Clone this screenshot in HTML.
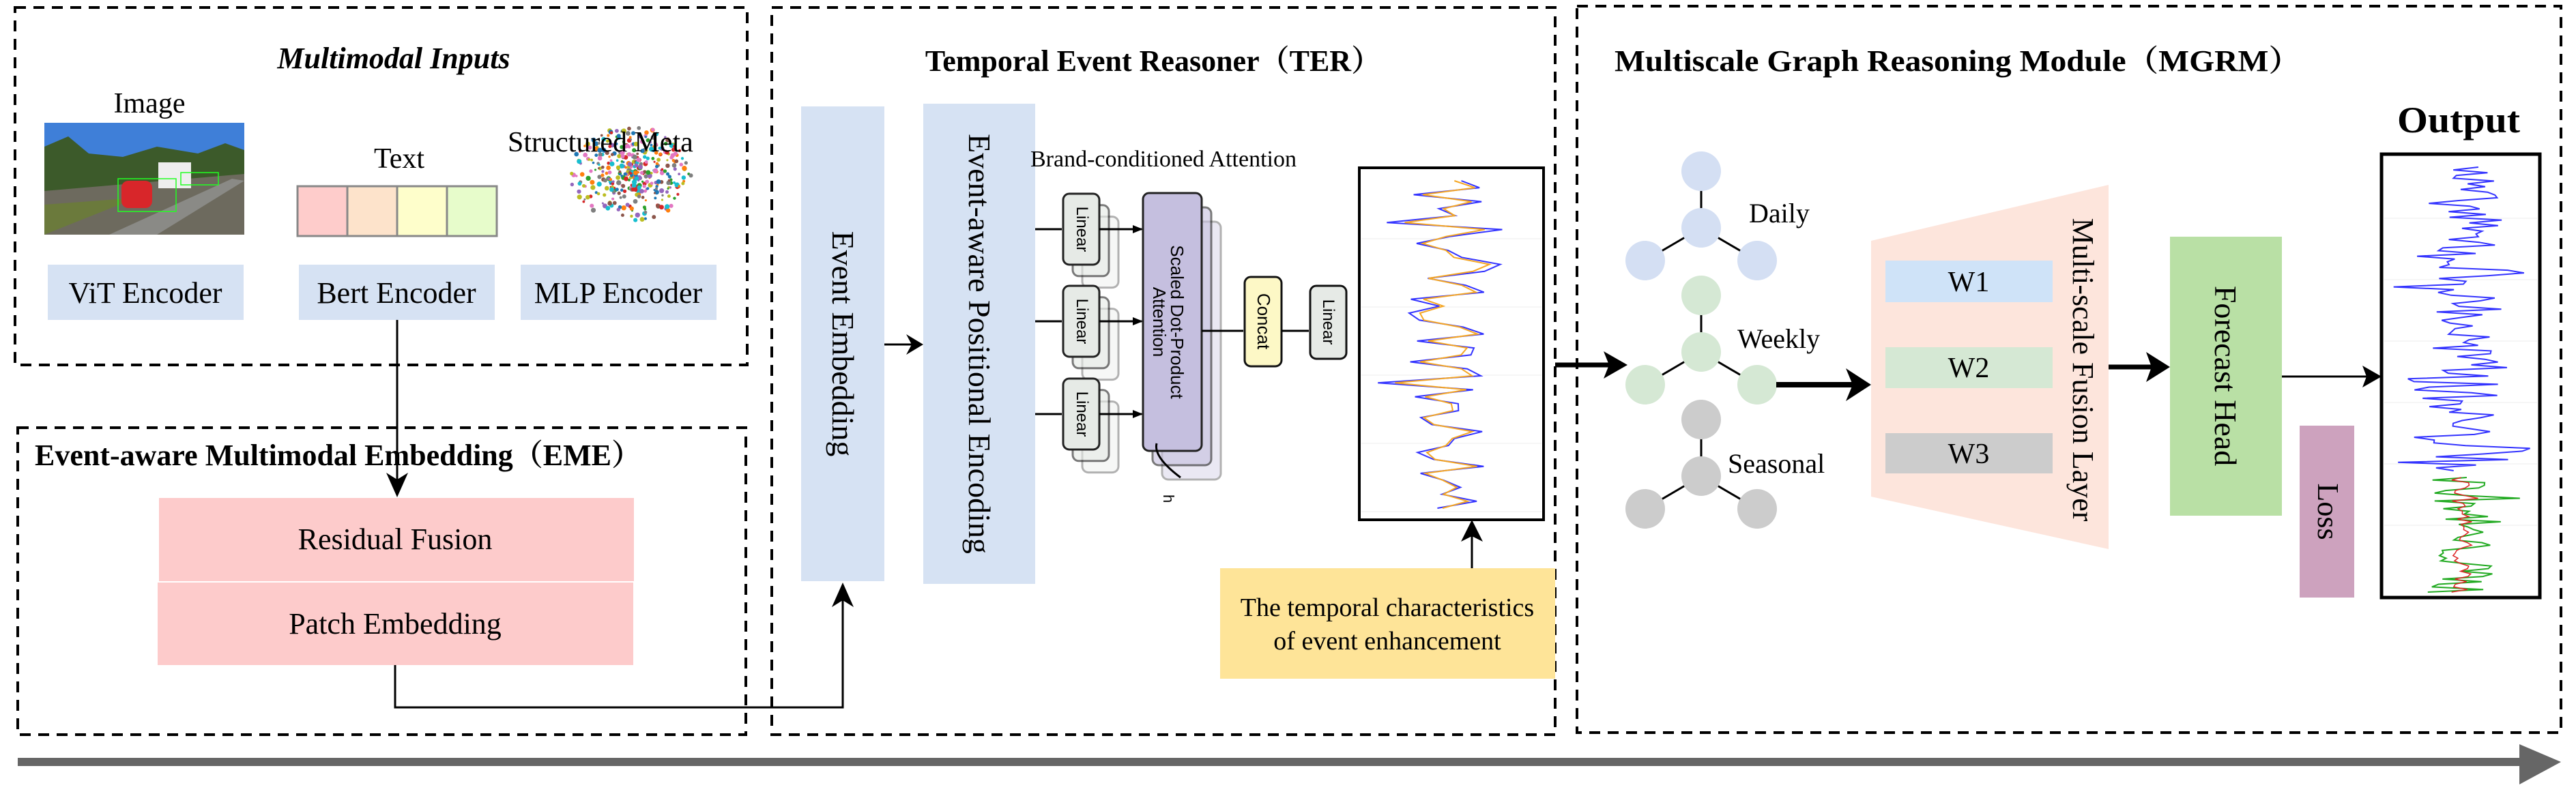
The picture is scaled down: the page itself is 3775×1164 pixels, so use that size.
<!DOCTYPE html>
<html><head><meta charset="utf-8"><style>
html,body{margin:0;padding:0;background:#fff;}
svg{display:block;}
text{font-family:"Liberation Serif","Noto Serif CJK SC",serif;fill:#000;}
.sans{font-family:"Liberation Sans",sans-serif;}
</style></head><body>
<svg id="s" width="3775" height="1164" viewBox="0 0 3775 1164" xmlns="http://www.w3.org/2000/svg">
<g fill="none" stroke="#000" stroke-width="4" stroke-dasharray="16,11">
<rect x="22" y="11" width="1073" height="524"/>
<rect x="26" y="627" width="1067" height="450"/>
<rect x="1131" y="11" width="1148" height="1066"/>
<rect x="2311" y="9" width="1442" height="1065"/>
</g>

<text x="577" y="100" font-size="44" font-weight="bold" font-style="italic" text-anchor="middle">Multimodal Inputs</text>
<text x="219" y="165" font-size="42" text-anchor="middle">Image</text>
<g>
<rect x="65" y="180" width="293" height="164" fill="#5b8fd9"/>
<rect x="65" y="180" width="293" height="50" fill="#3f7fd8"/>
<path d="M65,215 L100,200 L130,225 L180,230 L230,215 L290,225 L330,210 L358,220 L358,270 L65,290 Z" fill="#3c5a2a"/>
<path d="M65,280 L358,255 L358,344 L65,344 Z" fill="#6d6a5e"/>
<path d="M65,300 L200,290 L65,344 Z" fill="#6b7a3c"/>
<path d="M160,344 L340,262 L358,265 L230,344 Z" fill="#8a8a86"/>
<rect x="178" y="265" width="45" height="40" rx="10" fill="#d8262a"/>
<rect x="232" y="238" width="48" height="38" fill="#eeeeee"/>
<rect x="173" y="262" width="85" height="48" fill="none" stroke="#2f2" stroke-width="1.5"/>
<rect x="265" y="253" width="55" height="18" fill="none" stroke="#2f2" stroke-width="1.5"/>
</g>
<text x="585" y="246" font-size="42" text-anchor="middle">Text</text>
<g stroke="#888" stroke-width="3">
<rect x="436" y="273" width="73" height="73" fill="#fecccb"/>
<rect x="509" y="273" width="73" height="73" fill="#fde3cb"/>
<rect x="582" y="273" width="73" height="73" fill="#fefecb"/>
<rect x="655" y="273" width="73" height="73" fill="#e7fccb"/>
</g>
<g id="scatter"></g>
<text x="744" y="222" font-size="42">Structured Meta</text>
<g fill="#d6e2f3">
<rect x="70" y="388" width="287" height="81"/>
<rect x="438" y="388" width="287" height="81"/>
<rect x="763" y="388" width="287" height="81"/>
</g>
<g font-size="44" text-anchor="middle">
<text x="213" y="444">ViT Encoder</text>
<text x="581" y="444">Bert Encoder</text>
<text x="906" y="444">MLP Encoder</text>
</g>
<line x1="582" y1="469" x2="582" y2="705" stroke="#000" stroke-width="3"/>
<path d="M566,693 L582,729 L598,693 L582,703 Z" fill="#000"/>

<text x="51" y="682" font-size="44" font-weight="bold">Event-aware Multimodal Embedding（EME）</text>
<rect x="233" y="730" width="696" height="122" fill="#fdcbcb"/>
<rect x="231" y="854" width="697" height="121" fill="#fdcbcb"/>
<text x="579" y="805" font-size="44" text-anchor="middle">Residual Fusion</text>
<text x="579" y="929" font-size="44" text-anchor="middle">Patch Embedding</text>
<polyline points="579,975 579,1037 1235,1037 1235,880" fill="none" stroke="#000" stroke-width="3"/>
<path d="M1219,890 L1235,854 L1251,890 L1235,880 Z" fill="#000"/>

<text x="1690" y="104" font-size="44" font-weight="bold" text-anchor="middle">Temporal  Event Reasoner（TER）</text>
<rect x="1174" y="156" width="122" height="696" fill="#d6e2f3"/>
<rect x="1353" y="152" width="164" height="704" fill="#d6e2f3"/>
<text transform="translate(1220,504) rotate(90)" font-size="46" text-anchor="middle">Event Embedding</text>
<text transform="translate(1420,504) rotate(90)" font-size="46" text-anchor="middle">Event-aware Positional Encoding</text>
<line x1="1296" y1="505" x2="1340" y2="505" stroke="#000" stroke-width="3"/>
<path d="M1328,490 L1353,505 L1328,520 L1336,505 Z" fill="#000"/>
<text x="1510" y="244" font-size="34">Brand-conditioned Attention</text>
<g id="att"></g>
<rect x="1992" y="246" width="270" height="516" fill="#fff" stroke="#000" stroke-width="4"/>
<g id="c1"></g>
<rect x="1788" y="833" width="491" height="162" fill="#fee498"/>
<text x="2033" y="903" font-size="38" text-anchor="middle">The temporal characteristics</text>
<text x="2033" y="952" font-size="38" text-anchor="middle">of event enhancement</text>
<line x1="2157" y1="833" x2="2157" y2="782" stroke="#000" stroke-width="3"/>
<path d="M2141,794 L2157,762 L2173,794 L2157,786 Z" fill="#000"/>

<line x1="2279" y1="535" x2="2360" y2="535" stroke="#000" stroke-width="7"/>
<path d="M2350,515 L2385,535 L2350,555 L2358,535 Z" fill="#000"/>

<text x="2366" y="104" font-size="44" font-weight="bold" textLength="1006" lengthAdjust="spacingAndGlyphs">Multiscale Graph Reasoning Module（MGRM）</text>
<g id="graphs"></g>
<text x="2563" y="326" font-size="40">Daily</text>
<text x="2546" y="510" font-size="40">Weekly</text>
<text x="2532" y="693" font-size="40">Seasonal</text>
<line x1="2603" y1="564" x2="2715" y2="564" stroke="#000" stroke-width="8"/>
<path d="M2705,540 L2742,564 L2705,588 L2715,564 Z" fill="#000"/>
<polygon points="2742,353 3090,271 3090,805 2742,728" fill="#fde5dc"/>
<rect x="2763" y="382" width="245" height="61" fill="#cfe3f8"/>
<rect x="2763" y="509" width="245" height="60" fill="#d5e8d4"/>
<rect x="2763" y="635" width="245" height="59" fill="#cccccc"/>
<g font-size="42" text-anchor="middle">
<text x="2885" y="427">W1</text>
<text x="2885" y="553">W2</text>
<text x="2885" y="679">W3</text>
</g>
<text transform="translate(3038,542) rotate(90)" font-size="44" text-anchor="middle">Multi-scale Fusion Layer</text>
<line x1="3090" y1="538" x2="3155" y2="538" stroke="#000" stroke-width="7"/>
<path d="M3145,516 L3180,538 L3145,560 L3153,538 Z" fill="#000"/>
<rect x="3180" y="347" width="164" height="409" fill="#b9e0a5"/>
<text transform="translate(3246,551) rotate(90)" font-size="46" text-anchor="middle">Forecast Head</text>
<line x1="3344" y1="552" x2="3470" y2="552" stroke="#000" stroke-width="3"/>
<path d="M3462,536 L3490,552 L3462,568 L3468,552 Z" fill="#000"/>
<rect x="3370" y="624" width="80" height="252" fill="#cda2be"/>
<text transform="translate(3397,750) rotate(90)" font-size="44" text-anchor="middle">Loss</text>
<text x="3603" y="194" font-size="54" font-weight="bold" text-anchor="middle" textLength="180" lengthAdjust="spacingAndGlyphs">Output</text>
<rect x="3490" y="226" width="232" height="650" fill="#fff" stroke="#000" stroke-width="5"/>
<g id="c2"></g>

<rect x="26" y="1111" width="3680" height="12" fill="#666"/>
<polygon points="3692,1091 3753,1117 3692,1150" fill="#666"/>
</svg>
<script>
(function(){
var NS="http://www.w3.org/2000/svg";
var seed=7;function r(){seed=(seed*16807)%2147483647;return (seed-1)/2147483646;}
function el(p,t,a){var e=document.createElementNS(NS,t);for(var k in a)e.setAttribute(k,a[k]);p.appendChild(e);return e;}
var sc=document.getElementById('scatter');
var cols=['#1f77b4','#ff7f0e','#2ca02c','#d62728','#9467bd','#8c564b','#e377c2','#7f7f7f','#bcbd22','#17becf'];
for(var i=0;i<420;i++){var a=r()*6.283,d=Math.pow(r(),0.8);var c=cols[Math.floor(r()*10)];
el(sc,'circle',{cx:925+Math.cos(a)*d*90,cy:255+Math.sin(a)*d*70,r:1.5+r()*2.2,fill:c});}
var g=document.getElementById('att');
function rr(x,y,w,h,f,s,o){el(g,'rect',{x:x,y:y,width:w,height:h,rx:9,fill:f,stroke:s,'stroke-width':3,opacity:o});}
var ly=[284,419,555];
for(var k=2;k>=0;k--){var off=k*14,op=[1,0.6,0.35][k];
 ly.forEach(function(y){rr(1558+off,y+off*1.2,53,104,'#e6eae6','#222',op);});
 rr(1675+off,283+off*1.5,86,378,'#c5bfdf','#222',op);
}
ly.forEach(function(y){
 el(g,'line',{x1:1517,y1:y+52,x2:1556,y2:y+52,stroke:'#000','stroke-width':3});
 el(g,'line',{x1:1611,y1:y+52,x2:1673,y2:y+52,stroke:'#000','stroke-width':3});
 el(g,'polygon',{points:'1660,'+(y+46)+' 1675,'+(y+52)+' 1660,'+(y+58),fill:'#000'});
 var t=el(g,'text',{transform:'translate(1578,'+(y+52)+') rotate(90)','font-size':24,'text-anchor':'middle','class':'sans'});t.textContent='Linear';
});
var t=el(g,'text',{transform:'translate(1716,472) rotate(90)','font-size':26,'text-anchor':'middle','class':'sans'});t.textContent='Scaled Dot-Product';
t=el(g,'text',{transform:'translate(1690,472) rotate(90)','font-size':26,'text-anchor':'middle','class':'sans'});t.textContent='Attention';
el(g,'line',{x1:1761,y1:485,x2:1822,y2:485,stroke:'#000','stroke-width':3});
el(g,'rect',{x:1824,y:406,width:54,height:131,rx:9,fill:'#fdf8c6',stroke:'#111','stroke-width':3});
t=el(g,'text',{transform:'translate(1843,471) rotate(90)','font-size':26,'text-anchor':'middle','class':'sans'});t.textContent='Concat';
el(g,'line',{x1:1878,y1:485,x2:1918,y2:485,stroke:'#000','stroke-width':3});
el(g,'rect',{x:1920,y:419,width:53,height:107,rx:9,fill:'#e6eae6',stroke:'#111','stroke-width':3});
t=el(g,'text',{transform:'translate(1939,472) rotate(90)','font-size':24,'text-anchor':'middle','class':'sans'});t.textContent='Linear';
el(g,'path',{d:'M1695,650 Q1690,670 1730,700',fill:'none',stroke:'#000','stroke-width':3});
t=el(g,'text',{transform:'translate(1705,725) rotate(90)','font-size':22,'class':'sans'});t.textContent='h';
function gen(n,base,amp){var v=[];for(var i=0;i<n;i++){var s=r();v.push(base+(s-0.5)*2*amp*(r()<0.2?1.6:0.8));}return v;}
function draw(id,vals,y0,y1,col,w,x0,x1,noise){var p=[];var n=vals.length;for(var i=0;i<n;i++){var x=vals[i]+(noise?(r()-0.5)*noise:0);x=Math.max(x0,Math.min(x1,x));var y=y0+(y1-y0)*i/(n-1);p.push(x.toFixed(1)+','+y.toFixed(1));}
el(document.getElementById(id),'polyline',{points:p.join(' '),fill:'none',stroke:col,'stroke-width':w});}
var c1=document.getElementById('c1');
for(var j=0;j<5;j++){el(c1,'line',{x1:1995,x2:2259,y1:350+j*100,y2:350+j*100,stroke:'#eee','stroke-width':1});}
var v1=gen(48,2120,70);
draw('c1',v1,265,745,'#3333ff',2,2000,2258,0);
draw('c1',v1.map(function(x){return 2120+(x-2120)*0.75;}),265,745,'#f5a623',2,2000,2258,12);
var c2=document.getElementById('c2');
for(var j=0;j<6;j++){el(c2,'line',{x1:3494,x2:3718,y1:320+j*90,y2:320+j*90,stroke:'#eee','stroke-width':1});}
draw('c2',gen(110,3610,65),245,690,'#3333ff',2,3495,3718,0);
var v2=gen(45,3610,55);
draw('c2',v2,700,868,'#22aa22',2,3495,3718,0);
draw('c2',v2.map(function(x){return 3608+(x-3610)*0.3;}),700,868,'#dd2222',1.5,3495,3718,6);
var gr=document.getElementById('graphs');
[['#d4dff3',0],['#d5e8d4',182],['#cccccc',364]].forEach(function(q){var d=q[1],c=q[0];
 el(gr,'line',{x1:2493,y1:251+d,x2:2493,y2:334+d,stroke:'#000','stroke-width':3});
 el(gr,'line',{x1:2411,y1:382+d,x2:2493,y2:334+d,stroke:'#000','stroke-width':3});
 el(gr,'line',{x1:2575,y1:382+d,x2:2493,y2:334+d,stroke:'#000','stroke-width':3});
 [[2493,251],[2493,334],[2411,382],[2575,382]].forEach(function(p){el(gr,'ellipse',{cx:p[0],cy:p[1]+d,rx:29,ry:29,fill:c});});
});
})();
</script>
</body></html>
